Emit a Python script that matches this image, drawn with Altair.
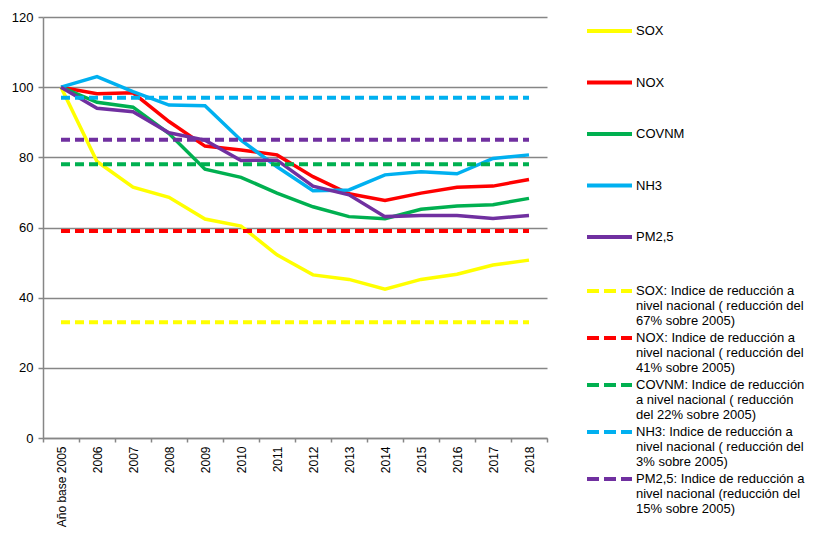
import altair as alt
import pandas as pd

years = ["Año base 2005", "2006", "2007", "2008", "2009", "2010", "2011",
         "2012", "2013", "2014", "2015", "2016", "2017", "2018"]
series_names = ["SOX", "NOX", "COVNM", "NH3", "PM2,5"]
sox = [100, 78.8, 71.5, 68.6, 62.4, 60.4, 52.2, 46.5, 45.2, 42.4, 45.2, 46.7, 49.3, 50.7]
nox = [100, 98.1, 98.4, 90.2, 83.2, 82.1, 80.7, 74.5, 69.6, 67.7, 69.8, 71.5, 71.8, 73.7]
covnm = [100, 95.7, 94.3, 86.8, 76.6, 74.3, 69.8, 65.9, 63.1, 62.5, 65.2, 66.1, 66.5, 68.3]
nh3 = [100, 103.0, 98.7, 94.9, 94.7, 84.9, 77.3, 70.5, 70.7, 75.0, 75.9, 75.3, 79.7, 80.7]
pm25 = [100, 94.0, 93.0, 87.0, 84.9, 79.1, 79.2, 71.8, 69.3, 63.1, 63.4, 63.4, 62.6, 63.4]
target_values = [33, 59, 78, 97, 85]
target_labels = [
    "SOX: Indice de reducción a|nivel nacional ( reducción del|67% sobre 2005)",
    "NOX: Indice de reducción a|nivel nacional ( reducción del|41% sobre 2005)",
    "COVNM: Indice de reducción|a nivel nacional ( reducción|del 22% sobre 2005)",
    "NH3: Indice de reducción a|nivel nacional ( reducción del|3% sobre 2005)",
    "PM2,5: Indice de reducción a|nivel nacional (reducción del|15% sobre 2005)",
]
colors = ["#FFFF00", "#FF0000", "#00B050", "#00B0F0", "#7030A0"]
y_ticks = [0, 20, 40, 60, 80, 100, 120]

rows = []
for name, vals in zip(series_names, [sox, nox, covnm, nh3, pm25]):
    for yr, v in zip(years, vals):
        rows.append({"anio": yr, "serie": name, "valor": v})
df = pd.DataFrame(rows)

trows = []
for lab, v in zip(target_labels, target_values):
    for yr in years:
        trows.append({"anio": yr, "objetivo": lab, "valor": v})
dft = pd.DataFrame(trows)

FONT = "Liberation Sans"
GRAY = "#868686"
LINE_SYMBOL = "M-3,0L3,0"

x_enc = alt.X(
    "anio:N",
    sort=years,
    scale=alt.Scale(type="band", domain=years, paddingInner=0, paddingOuter=0),
    axis=alt.Axis(
        title=None, labelAngle=270, tickBand="extent", grid=False,
        domainColor=GRAY, domainWidth=1.5, tickColor=GRAY, tickWidth=1.5, tickSize=4,
        labelFont=FONT, labelFontSize=12, labelColor="#000000", labelPadding=4,
    ),
)
y_enc = alt.Y(
    "valor:Q",
    scale=alt.Scale(domain=[0, 120], nice=False, zero=True),
    axis=alt.Axis(
        title=None, values=y_ticks, grid=True, gridColor=GRAY, gridWidth=1.5,
        domainColor=GRAY, domainWidth=1.5, tickColor=GRAY, tickWidth=1.5, tickSize=5,
        labelFont=FONT, labelFontSize=13, labelColor="#000000", labelPadding=5,
    ),
)

solid = alt.Chart(df).mark_line(strokeWidth=3.5).encode(
    x=x_enc,
    y=y_enc,
    color=alt.Color(
        "serie:N",
        sort=series_names,
        scale=alt.Scale(domain=series_names, range=colors),
        legend=alt.Legend(
            title=None, orient="none", legendX=557, legendY=4.5,
            symbolType=LINE_SYMBOL, symbolSize=225, symbolStrokeWidth=4,
            labelFont=FONT, labelFontSize=13, labelColor="#000000",
            labelOffset=17, rowPadding=33.5, padding=0,
        ),
    ),
)

dashed = alt.Chart(dft).mark_line(strokeWidth=4, strokeDash=[9, 5]).encode(
    x=x_enc,
    y=y_enc,
    color=alt.Color(
        "objetivo:N",
        sort=target_labels,
        scale=alt.Scale(domain=target_labels, range=colors),
        legend=alt.Legend(
            title=None, orient="none", legendX=557, legendY=264.5,
            symbolType=LINE_SYMBOL, symbolSize=225, symbolStrokeWidth=4,
            symbolDash=[12, 5],
            labelExpr="split(datum.label, '|')",
            labelFont=FONT, labelFontSize=13, labelColor="#000000",
            labelLimit=300,
            labelOffset=17, rowPadding=0, padding=0,
        ),
    ),
)

chart = (
    alt.layer(solid, dashed)
    .resolve_scale(color="independent")
    .properties(
        width=504, height=421,
        padding={"left": 35, "top": 9, "right": 258, "bottom": 90},
        autosize=alt.AutoSizeParams(type="none"),
        background="#FFFFFF",
    )
    .configure(style={"guide-label": {"lineHeight": 15}})
    .configure_view(stroke=None)
)

chart.save("out.html", embed_options={"renderer": "svg", "actions": False})
